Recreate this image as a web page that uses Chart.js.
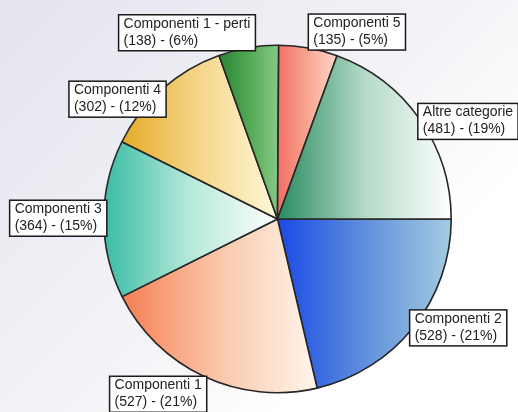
<!DOCTYPE html>
<html>
<head>
<meta charset="utf-8">
<script src="https://cdn.jsdelivr.net/npm/chart.js@4.4.1/dist/chart.umd.min.js"></script>
<style>
  html, body { margin: 0; padding: 0; }
  body {
    width: 518px; height: 412px; overflow: hidden;
    background: linear-gradient(135deg, #e4e4ee 0%, #f1f1f6 45%, #ffffff 75%);
  }
  #wrap { position: relative; width: 518px; height: 412px; }
</style>
</head>
<body>
<div id="wrap"><canvas id="torta" width="518" height="412"></canvas></div>
<script>
// dati (in senso orario dalle ore 3)
const labels = ['Componenti 2', 'Componenti 1', 'Componenti 3', 'Componenti 4', 'Componenti 1 - perti', 'Componenti 5', 'Altre categorie'];
const values = [528, 527, 364, 302, 138, 135, 481];

// colori: [scuro (sinistra), medio, chiaro (destra)]
const shades = [
  ['#1a4ae6', '#5f8fdc', '#a6cce2'],
  ['#f67e52', '#fac7aa', '#fff6ec'],
  ['#38bca4', '#b6e9da', '#ffffff'],
  ['#e5aa28', '#f5d68a', '#fff8da'],
  ['#268637', '#53a853', '#86c985'],
  ['#f26e64', '#f8a690', '#fdd8c8'],
  ['#288a60', '#b5dac8', '#ffffff']
];

// piccoli aggiustamenti delle etichette [dx, dy]
const labelNudge = [[-4, 1], [3, 0], [3, -1], [4, 10], [7, 3], [0, 2], [-2, 2]];

const total = values.reduce((a, b) => a + b, 0);

function sliceAngles(i) {
  let start = 0;
  for (let k = 0; k < i; k++) start += values[k] / total * Math.PI * 2;
  return [start, start + values[i] / total * Math.PI * 2];
}

function sliceGradient(context) {
  const chart = context.chart;
  const area = chart.chartArea;
  const i = context.dataIndex;
  const c = shades[i];
  if (!area) return c[1];
  const cx = (area.left + area.right) / 2;
  const r = Math.min(area.right - area.left, area.bottom - area.top) / 2;
  const [a0, a1] = sliceAngles(i);
  let minX = cx, maxX = cx;
  for (let s = 0; s <= 40; s++) {
    const a = a0 + (a1 - a0) * s / 40;
    const x = cx + Math.cos(a) * r;
    minX = Math.min(minX, x);
    maxX = Math.max(maxX, x);
  }
  const g = chart.ctx.createLinearGradient(minX, 0, maxX, 0);
  g.addColorStop(0, c[0]);
  g.addColorStop(0.5, c[1]);
  g.addColorStop(1, c[2]);
  return g;
}

// etichette a riquadro come nel grafico originale
const boxLabels = {
  id: 'boxLabels',
  afterDatasetsDraw(chart) {
    const ctx = chart.ctx;
    const meta = chart.getDatasetMeta(0);
    ctx.save();
    ctx.font = '14px "Liberation Sans", Arial, sans-serif';
    ctx.textBaseline = 'top';
    meta.data.forEach((arc, i) => {
      const mid = (arc.startAngle + arc.endAngle) / 2;
      const ax = arc.x + Math.cos(mid) * arc.outerRadius;
      const ay = arc.y + Math.sin(mid) * arc.outerRadius;
      const pct = Math.round(values[i] / total * 100);
      const lines = [labels[i], '(' + values[i] + ') - (' + pct + '%)'];
      const w = Math.max(...lines.map(t => ctx.measureText(t).width)) + 10;
      const h = 36;
      let x = Math.cos(mid) >= 0 ? ax : ax - w;
      const s = Math.sin(mid);
      let y;
      if (s < -0.85) y = ay - h;
      else if (s > 0.85) y = ay;
      else y = ay - h / 2;
      x += labelNudge[i][0];
      y += labelNudge[i][1];
      ctx.fillStyle = '#ffffff';
      ctx.fillRect(x, y, w, h);
      ctx.strokeStyle = '#1a1a1a';
      ctx.lineWidth = 1.5;
      ctx.strokeRect(x, y, w, h);
      ctx.fillStyle = '#222222';
      lines.forEach((t, k) => ctx.fillText(t, x + 5, y + 2 + k * 17));
    });
    ctx.restore();
  }
};

new Chart(document.getElementById('torta'), {
  type: 'pie',
  data: {
    labels: labels,
    datasets: [{
      data: values,
      backgroundColor: sliceGradient,
      borderColor: '#262626',
      borderWidth: 1.6,
      borderAlign: 'center'
    }]
  },
  options: {
    responsive: false,
    animation: false,
    rotation: 90,
    layout: { padding: { top: 44, bottom: 18, left: 103, right: 66 } },
    plugins: {
      legend: { display: false },
      tooltip: { enabled: false }
    }
  },
  plugins: [boxLabels]
});
</script>
</body>
</html>
